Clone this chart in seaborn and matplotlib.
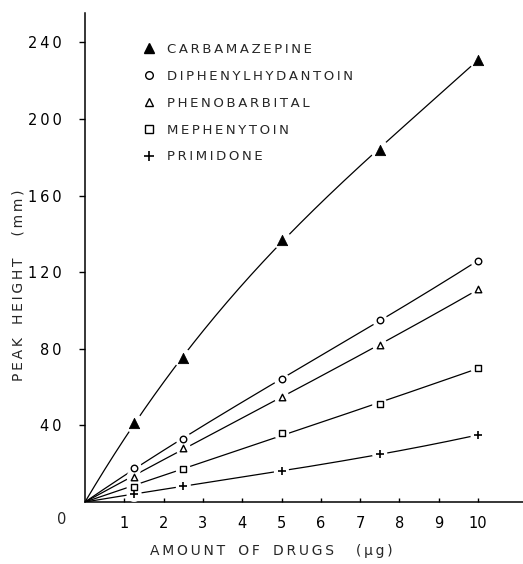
import numpy as np
import pandas as pd
import matplotlib
matplotlib.use("Agg")
import matplotlib.pyplot as plt
import seaborn as sns
from matplotlib.lines import Line2D

# ---- data ----
drugs = ["CARBAMAZEPINE", "DIPHENYLHYDANTOIN", "PHENOBARBITAL", "MEPHENYTOIN", "PRIMIDONE"]
amount = [1.25, 2.5, 5, 7.5, 10]
carbamazepine = [41, 75, 137, 184, 231]
diphenylhydantoin = [18, 33, 64, 95, 126]
phenobarbital = [13, 28, 55, 82, 111]
mephenytoin = [8, 17, 36, 51, 70]
primidone = [4, 8.5, 16, 25, 35]
xticks = [1, 2, 3, 4, 5, 6, 7, 8, 9, 10]
yticks = [40, 80, 120, 160, 200, 240]

series = [carbamazepine, diphenylhydantoin, phenobarbital, mephenytoin, primidone]

sns.set_theme(style="white")
plt.rcParams["font.family"] = ["DejaVu Sans"]

def sp(s, gap="\u2009"):
    return gap.join(list(s))

rows = []
for d, vals in zip(drugs, series):
    for x, y in zip(amount, vals):
        rows.append({"drug": d, "x": x, "y": y})
df = pd.DataFrame(rows)

# fitted calibration curves through origin (least squares polynomial without intercept)
fit_rows = []
xs = np.linspace(0, 10, 200)
for d, vals in zip(drugs, series):
    a = np.array(amount, float)
    X = np.column_stack([a, a ** 2, a ** 3])
    coef, *_ = np.linalg.lstsq(X, np.array(vals, float), rcond=None)
    for x in xs:
        fit_rows.append({"drug": d, "x": x, "y": coef[0] * x + coef[1] * x ** 2 + coef[2] * x ** 3})
fit = pd.DataFrame(fit_rows)

fig = plt.figure(figsize=(5.23, 5.64), dpi=100)
ax = fig.add_axes([85 / 523, 1 - 502 / 564, 438 / 523, (502 - 13) / 564])

sns.lineplot(data=fit, x="x", y="y", units="drug", estimator=None, color="black",
             linewidth=0.9, ax=ax, legend=False)

# white gaps around the markers
for d in drugs:
    sub = df[df.drug == d]
    big = 190 if d == "CARBAMAZEPINE" else 120
    sns.scatterplot(data=sub, x="x", y="y", ax=ax, legend=False, zorder=4,
                    marker="o", s=big, color="white", edgecolor="none")

markers = {"CARBAMAZEPINE": "^", "DIPHENYLHYDANTOIN": "o", "PHENOBARBITAL": "^",
           "MEPHENYTOIN": "s", "PRIMIDONE": "+"}
for d in drugs:
    sub = df[df.drug == d]
    if d == "CARBAMAZEPINE":
        kw = dict(marker="^", s=55, color="black", edgecolor="black")
    elif d == "PRIMIDONE":
        kw = dict(marker="+", s=36, color="black", linewidth=1.2)
    else:
        kw = dict(marker=markers[d], s=22, facecolor="white", edgecolor="black", linewidth=1.0)
    sns.scatterplot(data=sub, x="x", y="y", ax=ax, legend=False, zorder=5, **kw)

# legend
handles = [
    Line2D([], [], ls="", marker="^", ms=7.5, color="black"),
    Line2D([], [], ls="", marker="o", ms=5.5, mfc="white", mec="black", mew=1.0),
    Line2D([], [], ls="", marker="^", ms=5.5, mfc="white", mec="black", mew=1.0),
    Line2D([], [], ls="", marker="s", ms=5.5, mfc="white", mec="black", mew=1.0),
    Line2D([], [], ls="", marker="+", ms=7, color="black", mew=1.2),
]
leg = ax.legend(handles, [sp(d) for d in drugs], loc="upper left",
                bbox_to_anchor=(142 / 523, 1 - 43 / 564), bbox_transform=fig.transFigure,
                frameon=False, handlelength=1.0, handletextpad=0.9, labelspacing=1.05,
                borderpad=0, borderaxespad=0, fontsize=9.5)

ax.set_xlim(0, 438 / 39.3)
ax.set_ylim(0, (502 - 13) / 1.915)
ax.set_xticks(xticks)
ax.set_xticklabels([str(t) for t in xticks])
ax.set_yticks(yticks)
ax.set_yticklabels([sp(str(t)) for t in yticks])
ax.tick_params(axis="x", direction="in", length=3, width=1, pad=10, labelsize=10.5, colors="black")
ax.tick_params(axis="y", direction="out", length=4, width=1, pad=13, labelsize=10.5, colors="black")
ax.xaxis.set_ticks_position("bottom")
ax.yaxis.set_ticks_position("left")

ax.text(-23 / 39.3, -18 / 1.915, "0", ha="center", va="center", fontsize=10.5, clip_on=False)

for s in ["top", "right"]:
    ax.spines[s].set_visible(False)
for s in ["left", "bottom"]:
    ax.spines[s].set_color("black")
    ax.spines[s].set_linewidth(1.1)

ax.set_xlabel(sp("AMOUNT") + "   " + sp("OF") + "   " + sp("DRUGS") + "     " + sp("(μg)"), fontsize=10)
ax.set_ylabel(sp("PEAK") + "   " + sp("HEIGHT") + "     " + sp("(mm)"), fontsize=10)
ax.xaxis.set_label_coords((271 - 85) / 438, (502 - 544) / 489)
ax.yaxis.set_label_coords((26 - 85) / 438, (502 - 285) / 489)

fig.savefig("out.png", dpi=100)
